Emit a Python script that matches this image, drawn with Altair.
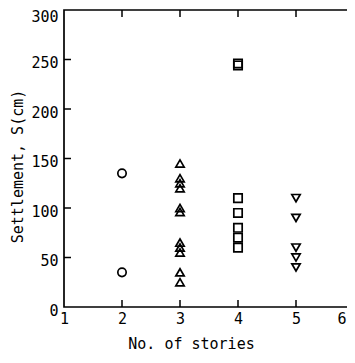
import altair as alt
import pandas as pd

# Data
stories_2 = [2, 2]
settle_2 = [135, 35]

stories_3 = [3] * 11
settle_3 = [145, 130, 125, 120, 100, 96, 65, 60, 55, 35, 25]

stories_4 = [4] * 7
settle_4 = [246, 244, 110, 95, 80, 70, 60]

stories_5 = [5] * 5
settle_5 = [110, 90, 60, 50, 40]

groups = ["2", "3", "4", "5"]
shapes = ["circle", "triangle-up", "square", "triangle-down"]

y_ticks = [50, 100, 150, 200, 250]
x_ticks = [2, 3, 4, 5]

rows = []
for g, xs, ys in zip(groups, [stories_2, stories_3, stories_4, stories_5],
                     [settle_2, settle_3, settle_4, settle_5]):
    for a, b in zip(xs, ys):
        rows.append({"stories": a, "settlement": b, "group": g})
df = pd.DataFrame(rows)
df_y = pd.DataFrame({"v": y_ticks})
df_x = pd.DataFrame({"v": x_ticks})

FONT = "DejaVu Sans Mono"

xscale = alt.Scale(domain=[1, 6], nice=False, zero=False)
yscale = alt.Scale(domain=[0, 300], nice=False, zero=False)

points = alt.Chart(df).mark_point(filled=False, strokeWidth=1.7, color="black", opacity=1).encode(
    x=alt.X("stories:Q", scale=xscale,
            axis=alt.Axis(values=[1, 2, 3, 4, 5, 6], format="d", title="No. of stories",
                          ticks=False, tickSize=0, domain=False, grid=False,
                          labelPadding=4,
                          labelAlign={"condition": {"test": "datum.value == 6", "value": "right"}, "value": "center"},
                          labelOffset={"condition": {"test": "datum.value == 6", "value": -8}, "value": 0},
                          labelFont=FONT, labelFontSize=15, labelColor="black",
                          titleFont=FONT, titleFontSize=15, titleFontWeight="normal", titleColor="black",
                          titleX=127, titleY=41, titleBaseline="alphabetic", titleAlign="center")),
    y=alt.Y("settlement:Q", scale=yscale,
            axis=alt.Axis(values=[0, 50, 100, 150, 200, 250, 300], title="Settlement, S(cm)",
                          ticks=False, tickSize=0, domain=False, grid=False,
                          labelPadding=6,
                          labelOffset={"condition": {"test": "datum.value == 300", "value": 6}, "value": 3},
                          labelFont=FONT, labelFontSize=15, labelColor="black",
                          titleFont=FONT, titleFontSize=15, titleFontWeight="normal", titleColor="black",
                          titleX=-47, titleY=156, titleAngle=-90, titleBaseline="middle", titleAlign="center")),
    shape=alt.Shape("group:N", scale=alt.Scale(domain=groups, range=shapes), legend=None),
    size=alt.value(70),
)

left_ticks = alt.Chart(df_y).mark_rule(color="black", strokeWidth=1.5).encode(
    y=alt.Y("v:Q", scale=yscale), x=alt.value(0), x2=alt.value(7))
right_ticks = alt.Chart(df_y).mark_rule(color="black", strokeWidth=1.5).encode(
    y=alt.Y("v:Q", scale=yscale), x=alt.value(283), x2=alt.value(290))
bottom_ticks = alt.Chart(df_x).mark_rule(color="black", strokeWidth=1.5).encode(
    x=alt.X("v:Q", scale=xscale), y=alt.value(297), y2=alt.value(290))
top_ticks = alt.Chart(df_x).mark_rule(color="black", strokeWidth=1.5).encode(
    x=alt.X("v:Q", scale=xscale), y=alt.value(0), y2=alt.value(7))

chart = alt.layer(points, left_ticks, right_ticks, bottom_ticks, top_ticks).properties(
    width=290, height=297,
    autosize=alt.AutoSizeParams(type="none"),
    padding={"left": 56, "top": 2, "right": -7, "bottom": 44},
).configure_view(stroke="black", strokeWidth=1.7)

chart.save("out.html", embed_options={"renderer": "svg", "actions": False})
